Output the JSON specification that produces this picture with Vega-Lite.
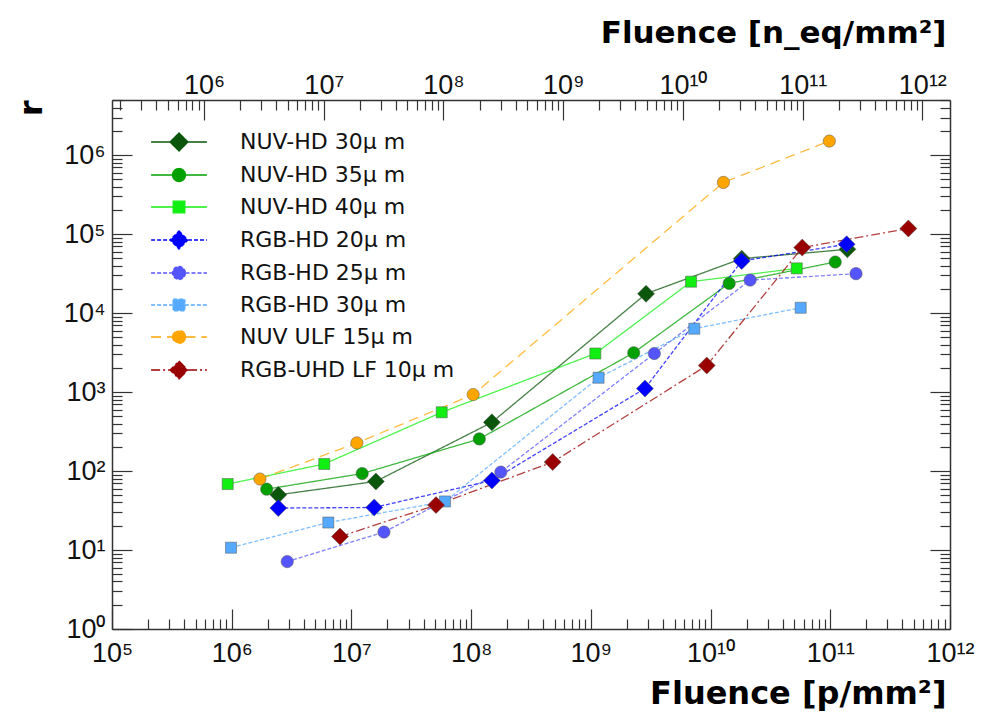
{
  "$schema": "https://vega.github.io/schema/vega-lite/v6.json",
  "width": 838,
  "height": 529,
  "autosize": "none",
  "padding": {"left": 112, "top": 100, "right": 34, "bottom": 98},
  "background": "white",
  "config": {"view": {"stroke": null}, "font": "DejaVu Sans"},
  "data": {
    "values": [
      {"s": "NUV-HD 30μ m", "F": 2450000, "r": 50},
      {"s": "NUV-HD 30μ m", "F": 16000000, "r": 74},
      {"s": "NUV-HD 30μ m", "F": 149000000, "r": 414},
      {"s": "NUV-HD 30μ m", "F": 2890000000, "r": 17600},
      {"s": "NUV-HD 30μ m", "F": 18200000000, "r": 49000},
      {"s": "NUV-HD 30μ m", "F": 139000000000, "r": 64300},
      {"s": "NUV-HD 35μ m", "F": 1960000, "r": 59},
      {"s": "NUV-HD 35μ m", "F": 12300000, "r": 93},
      {"s": "NUV-HD 35μ m", "F": 117000000, "r": 255},
      {"s": "NUV-HD 35μ m", "F": 2280000000, "r": 3150},
      {"s": "NUV-HD 35μ m", "F": 14300000000, "r": 23800},
      {"s": "NUV-HD 35μ m", "F": 110000000000, "r": 44400},
      {"s": "NUV-HD 40μ m", "F": 926000, "r": 68.5},
      {"s": "NUV-HD 40μ m", "F": 5930000, "r": 123},
      {"s": "NUV-HD 40μ m", "F": 56800000, "r": 555},
      {"s": "NUV-HD 40μ m", "F": 1090000000, "r": 3080},
      {"s": "NUV-HD 40μ m", "F": 6870000000, "r": 25000},
      {"s": "NUV-HD 40μ m", "F": 52500000000, "r": 36900},
      {"s": "RGB-HD 20μ m", "F": 2450000, "r": 34},
      {"s": "RGB-HD 20μ m", "F": 15500000, "r": 34.6},
      {"s": "RGB-HD 20μ m", "F": 149000000, "r": 76},
      {"s": "RGB-HD 20μ m", "F": 2830000000, "r": 1110},
      {"s": "RGB-HD 20μ m", "F": 18200000000, "r": 45700},
      {"s": "RGB-HD 20μ m", "F": 137000000000, "r": 74500},
      {"s": "RGB-HD 25μ m", "F": 2910000, "r": 7.14},
      {"s": "RGB-HD 25μ m", "F": 18700000, "r": 16.9},
      {"s": "RGB-HD 25μ m", "F": 177000000, "r": 97},
      {"s": "RGB-HD 25μ m", "F": 3390000000, "r": 3080},
      {"s": "RGB-HD 25μ m", "F": 21400000000, "r": 26200},
      {"s": "RGB-HD 25μ m", "F": 164000000000, "r": 31600},
      {"s": "RGB-HD 30μ m", "F": 986000, "r": 10.7},
      {"s": "RGB-HD 30μ m", "F": 6410000, "r": 22.3},
      {"s": "RGB-HD 30μ m", "F": 60500000, "r": 41.2},
      {"s": "RGB-HD 30μ m", "F": 1160000000, "r": 1520},
      {"s": "RGB-HD 30μ m", "F": 7310000000, "r": 6350},
      {"s": "RGB-HD 30μ m", "F": 56600000000, "r": 11700},
      {"s": "NUV ULF 15μ m", "F": 1720000, "r": 79.3},
      {"s": "NUV ULF 15μ m", "F": 11100000, "r": 227},
      {"s": "NUV ULF 15μ m", "F": 104000000, "r": 931},
      {"s": "NUV ULF 15μ m", "F": 12800000000, "r": 452000},
      {"s": "NUV ULF 15μ m", "F": 98200000000, "r": 1510000},
      {"s": "RGB-UHD LF 10μ m", "F": 8030000, "r": 14.8},
      {"s": "RGB-UHD LF 10μ m", "F": 50900000, "r": 37.1},
      {"s": "RGB-UHD LF 10μ m", "F": 480000000, "r": 130},
      {"s": "RGB-UHD LF 10μ m", "F": 9290000000, "r": 2170},
      {"s": "RGB-UHD LF 10μ m", "F": 58300000000, "r": 67600},
      {"s": "RGB-UHD LF 10μ m", "F": 449000000000, "r": 118000}
    ]
  },
  "layer": [
    {
      "mark": {"type": "line", "strokeWidth": 1.3, "strokeOpacity": 0.75},
      "encoding": {
        "x": {
          "field": "F", "type": "quantitative",
          "scale": {"type": "log", "domain": [100000, 1000000000000], "nice": false},
          "axis": {
            "orient": "bottom",
            "values": [100000,200000,300000,400000,500000,600000,700000,800000,900000,1000000,2000000,3000000,4000000,5000000,6000000,7000000,8000000,9000000,10000000,20000000,30000000,40000000,50000000,60000000,70000000,80000000,90000000,100000000,200000000,300000000,400000000,500000000,600000000,700000000,800000000,900000000,1000000000,2000000000,3000000000,4000000000,5000000000,6000000000,7000000000,8000000000,9000000000,10000000000,20000000000,30000000000,40000000000,50000000000,60000000000,70000000000,80000000000,90000000000,100000000000,200000000000,300000000000,400000000000,500000000000,600000000000,700000000000,800000000000,900000000000,1000000000000],
            "labelExpr": "abs(log(datum.value)/LN10 - round(log(datum.value)/LN10)) < 0.01 ? '10' + (round(log(datum.value)/LN10) >= 10 ? '¹' + substring('⁰¹²³⁴⁵⁶⁷⁸⁹', round(log(datum.value)/LN10) - 10, round(log(datum.value)/LN10) - 9) : substring('⁰¹²³⁴⁵⁶⁷⁸⁹', round(log(datum.value)/LN10), round(log(datum.value)/LN10) + 1)) : ''",
            "tickSize": {"condition": {"test": "abs(log(datum.value)/LN10 - round(log(datum.value)/LN10)) < 0.01", "value": -20}, "value": -10},
            "tickColor": "#333", "tickWidth": 1.2, "domainColor": "#333", "domainWidth": 1.5, "grid": false,
            "labelFont": "Liberation Sans", "labelFontSize": 27, "labelColor": "#111", "labelPadding": 31,
            "labelOverlap": false, "labelFlush": false, "labelBound": false,
            "title": "Fluence [p/mm²]", "titleFont": "DejaVu Sans", "titleFontSize": 32, "titleFontWeight": "bold", "titleColor": "#000",
            "titleAnchor": "end", "titleAlign": "right", "titleBaseline": "alphabetic", "titleX": 834, "titleY": 74
          }
        },
        "y": {
          "field": "r", "type": "quantitative",
          "scale": {"type": "log", "domain": [1, 5000000], "nice": false},
          "axis": {
            "orient": "left",
            "values": [1,2,3,4,5,6,7,8,9,10,20,30,40,50,60,70,80,90,100,200,300,400,500,600,700,800,900,1000,2000,3000,4000,5000,6000,7000,8000,9000,10000,20000,30000,40000,50000,60000,70000,80000,90000,100000,200000,300000,400000,500000,600000,700000,800000,900000,1000000,2000000,3000000,4000000,5000000],
            "labelExpr": "abs(log(datum.value)/LN10 - round(log(datum.value)/LN10)) < 0.01 ? '10' + (round(log(datum.value)/LN10) >= 10 ? '¹' + substring('⁰¹²³⁴⁵⁶⁷⁸⁹', round(log(datum.value)/LN10) - 10, round(log(datum.value)/LN10) - 9) : substring('⁰¹²³⁴⁵⁶⁷⁸⁹', round(log(datum.value)/LN10), round(log(datum.value)/LN10) + 1)) : ''",
            "tickSize": {"condition": {"test": "abs(log(datum.value)/LN10 - round(log(datum.value)/LN10)) < 0.01", "value": -20}, "value": -10},
            "tickColor": "#333", "tickWidth": 1.2, "domainColor": "#333", "domainWidth": 1.5, "grid": false,
            "labelFont": "Liberation Sans", "labelFontSize": 27, "labelColor": "#111", "labelPadding": 27,
            "labelOverlap": false, "labelFlush": false, "labelBound": false,
            "title": "r", "titleFont": "DejaVu Sans", "titleFontSize": 32, "titleFontWeight": "bold", "titleColor": "#000",
            "titleAngle": -90, "titleAlign": "right", "titleBaseline": "alphabetic", "titleX": -71, "titleY": 0
          }
        },
        "color": {
          "field": "s", "type": "nominal",
          "scale": {
            "domain": ["NUV-HD 30μ m", "NUV-HD 35μ m", "NUV-HD 40μ m", "RGB-HD 20μ m", "RGB-HD 25μ m", "RGB-HD 30μ m", "NUV ULF 15μ m", "RGB-UHD LF 10μ m"],
            "range": ["#0a560a", "#00a000", "#11ee11", "#0000ff", "#5555ff", "#55aaff", "#ffa500", "#990000"]
          },
          "legend": {
            "title": null, "orient": "none", "legendX": 56, "legendY": 31, "padding": 0,
            "symbolSize": 324, "symbolStrokeWidth": 1.3, "labelFont": "DejaVu Sans", "labelFontSize": 22, "labelColor": "#111",
            "labelOffset": 50, "rowPadding": 10, "labelLimit": 400,
            "encode": {
              "symbols": {
                "update": {
                  "shape": {"signal": "(indexof(scale('shape', datum.value), 'A') >= 0 ? 'M-3.1,0H-0.72M0.72,0H3.1' : (indexof(scale('shape', datum.value), 'V') >= 0 ? 'M-3.1,0H-0.65M0.65,0H3.1' : 'M-3.1,0H-1M1,0H3.1')) + scale('shape', datum.value)"},
                  "stroke": {"signal": "scale('color', datum.value)"},
                  "fill": {"signal": "scale('color', datum.value)"},
                  "strokeDash": {"signal": "scale('strokeDash', datum.value)"},
                  "opacity": {"value": 1}
                }
              }
            }
          }
        },
        "strokeDash": {
          "field": "s", "type": "nominal",
          "scale": {
            "domain": ["RGB-UHD LF 10μ m", "NUV ULF 15μ m", "RGB-HD 30μ m", "RGB-HD 25μ m", "RGB-HD 20μ m", "NUV-HD 40μ m", "NUV-HD 35μ m", "NUV-HD 30μ m"],
            "range": [[9, 3, 2, 3], [10, 6], [4, 2], [4, 2], [4, 2], [1, 0], [1, 0], [1, 0]]
          },
          "legend": null
        }
      }
    },
    {
      "mark": {"type": "point", "filled": true, "size": 289, "opacity": 1, "stroke": "#555", "strokeWidth": 1, "strokeOpacity": 0.5},
      "encoding": {
        "x": {"field": "F", "type": "quantitative", "scale": {"type": "log", "domain": [100000, 1000000000000], "nice": false}, "axis": null},
        "y": {"field": "r", "type": "quantitative", "scale": {"type": "log", "domain": [1, 5000000], "nice": false}, "axis": null},
        "color": {
          "field": "s", "type": "nominal",
          "scale": {
            "domain": ["NUV-HD 30μ m", "NUV-HD 35μ m", "NUV-HD 40μ m", "RGB-HD 20μ m", "RGB-HD 25μ m", "RGB-HD 30μ m", "NUV ULF 15μ m", "RGB-UHD LF 10μ m"],
            "range": ["#0a560a", "#00a000", "#11ee11", "#0000ff", "#5555ff", "#55aaff", "#ffa500", "#990000"]
          },
          "legend": null
        },
        "shape": {
          "field": "s", "type": "nominal",
          "scale": {
            "domain": ["RGB-UHD LF 10μ m", "NUV ULF 15μ m", "RGB-HD 30μ m", "RGB-HD 25μ m", "RGB-HD 20μ m", "NUV-HD 40μ m", "NUV-HD 35μ m", "NUV-HD 30μ m"],
            "range": ["M0,-1L1,0L0,1L-1,0Z", "M0.72,0A0.72,0.72,0,1,1,-0.72,0A0.72,0.72,0,1,1,0.72,0Z", "M-0.65,-0.65H0.65V0.65H-0.65Z", "M0.72,0A0.72,0.72,0,1,1,-0.72,0A0.72,0.72,0,1,1,0.72,0Z", "M0,-1L1,0L0,1L-1,0Z", "M-0.65,-0.65H0.65V0.65H-0.65Z", "M0.72,0A0.72,0.72,0,1,1,-0.72,0A0.72,0.72,0,1,1,0.72,0Z", "M0,-1L1,0L0,1L-1,0Z"]
          },
          "legend": null
        }
      }
    },
    {
      "mark": {"type": "point", "opacity": 0},
      "encoding": {
        "x": {
          "field": "F", "type": "quantitative",
          "scale": {"type": "log", "domain": [170215, 1702150000000], "nice": false},
          "axis": {
            "orient": "top",
            "values": [200000,300000,400000,500000,600000,700000,800000,900000,1000000,2000000,3000000,4000000,5000000,6000000,7000000,8000000,9000000,10000000,20000000,30000000,40000000,50000000,60000000,70000000,80000000,90000000,100000000,200000000,300000000,400000000,500000000,600000000,700000000,800000000,900000000,1000000000,2000000000,3000000000,4000000000,5000000000,6000000000,7000000000,8000000000,9000000000,10000000000,20000000000,30000000000,40000000000,50000000000,60000000000,70000000000,80000000000,90000000000,100000000000,200000000000,300000000000,400000000000,500000000000,600000000000,700000000000,800000000000,900000000000,1000000000000],
            "labelExpr": "abs(log(datum.value)/LN10 - round(log(datum.value)/LN10)) < 0.01 ? '10' + (round(log(datum.value)/LN10) >= 10 ? '¹' + substring('⁰¹²³⁴⁵⁶⁷⁸⁹', round(log(datum.value)/LN10) - 10, round(log(datum.value)/LN10) - 9) : substring('⁰¹²³⁴⁵⁶⁷⁸⁹', round(log(datum.value)/LN10), round(log(datum.value)/LN10) + 1)) : ''",
            "tickSize": {"condition": {"test": "abs(log(datum.value)/LN10 - round(log(datum.value)/LN10)) < 0.01", "value": -20}, "value": -10},
            "tickColor": "#333", "tickWidth": 1.2, "domainColor": "#333", "domainWidth": 1.5, "grid": false,
            "labelFont": "Liberation Sans", "labelFontSize": 27, "labelColor": "#111", "labelPadding": 21,
            "labelOverlap": false, "labelFlush": false, "labelBound": false,
            "title": "Fluence [n_eq/mm²]", "titleFont": "DejaVu Sans", "titleFontSize": 31, "titleFontWeight": "bold", "titleColor": "#000",
            "titleAnchor": "end", "titleAlign": "right", "titleBaseline": "alphabetic", "titleX": 834, "titleY": -58
          }
        },
        "y": {
          "field": "r", "type": "quantitative",
          "scale": {"type": "log", "domain": [1, 5000000], "nice": false},
          "axis": {
            "orient": "right",
            "values": [1,2,3,4,5,6,7,8,9,10,20,30,40,50,60,70,80,90,100,200,300,400,500,600,700,800,900,1000,2000,3000,4000,5000,6000,7000,8000,9000,10000,20000,30000,40000,50000,60000,70000,80000,90000,100000,200000,300000,400000,500000,600000,700000,800000,900000,1000000,2000000,3000000,4000000,5000000],
            "labels": false,
            "tickSize": {"condition": {"test": "abs(log(datum.value)/LN10 - round(log(datum.value)/LN10)) < 0.01", "value": -20}, "value": -10},
            "tickColor": "#333", "tickWidth": 1.2, "domainColor": "#333", "domainWidth": 1.5, "grid": false,
            "title": null
          }
        }
      }
    }
  ],
  "resolve": {"scale": {"x": "independent"}, "axis": {"x": "independent", "y": "independent"}}
}
